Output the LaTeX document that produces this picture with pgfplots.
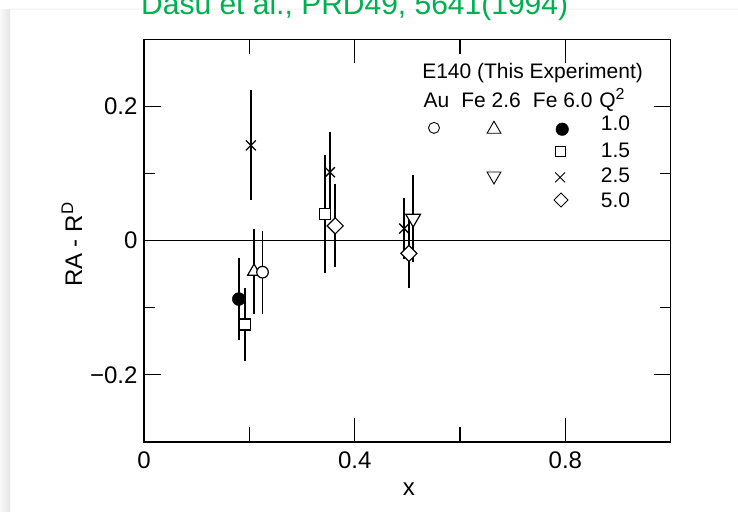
\documentclass[border=0pt]{standalone}
\usepackage{fontspec}
\setmainfont{Liberation Sans}
\usepackage{pgfplots}
\pgfplotsset{compat=1.18}
\definecolor{slidegreen}{RGB}{0,176,80}
\newcommand{\tickfont}{\fontsize{24}{28}\selectfont}
\newcommand{\legfont}{\fontsize{21}{25}\selectfont}
\begin{document}
\begin{tikzpicture}
\clip (0pt,0pt) rectangle (738pt,511pt);
\fill[white] (0pt,0pt) rectangle (738pt,511pt);
\shade[left color=gray!5, right color=gray!20] (0pt,0pt) rectangle (10pt,501pt);
\shade[bottom color=gray!12, top color=white] (10pt,501pt) rectangle (738pt,504pt);
\node[anchor=base west, text=slidegreen, font=\fontsize{30}{34}\selectfont, inner sep=0pt] at (141pt,496pt) {Dasu et al., PRD49, 5641(1994)};
% main axis: y ticks, data
\begin{axis}[
  at={(144pt,69pt)}, anchor=south west, scale only axis,
  width=526.7pt, height=402.7pt,
  xmin=0, xmax=1, ymin=-0.3, ymax=0.3,
  axis line style={line width=1.2pt},
  xtick={0,0.4,0.8}, xticklabels={0,0.4,0.8},
  ytick={-0.2,0,0.2}, yticklabels={−0.2,0,0.2},
  minor ytick={-0.1,0.1},
  major tick length=17pt, minor tick length=11pt,
  tick style={line width=1.2pt, black},
  xtick style={draw=none},
  ticklabel style={font=\tickfont},
  xticklabel style={yshift=-6pt},
  yticklabel style={xshift=-3pt},
  xlabel={x}, ylabel={RA - R\textsuperscript{D}},
  label style={font=\tickfont},
  xlabel style={at={(axis description cs:0.503,-0.117)}, anchor=center},
  ylabel style={at={(axis description cs:-0.137,0.49)}, anchor=center},
  clip=false,
]
% zero line
\addplot[black, line width=1.1pt, mark=none] coordinates {(0,0) (1,0)};
% error bars first
\addplot[draw=none, mark=none, error bars/.cd, y dir=both, y explicit, error mark=none,
  error bar style={line width=1.4pt, black}] coordinates {
  (0.225,-0.047) +- (0,0.062)
  (0.209,-0.046) +- (0,0.064)
  (0.511,0.033) +- (0,0.065)
  (0.180,-0.087) +- (0,0.061)
  (0.192,-0.125) +- (0,0.054)
  (0.344,0.040) +- (0,0.088)
  (0.203,0.142) +- (0,0.082)
  (0.353,0.102) +- (0,0.060)
  (0.494,0.018) +- (0,0.046)
  (0.363,0.022) +- (0,0.062)
  (0.503,-0.019) +- (0,0.052)
};
% Fe 2.6, Q2=1.0 triangle
\addplot[only marks, mark=triangle*, mark size=7.5pt, mark options={fill=white, draw=black, line width=1.2pt}] coordinates {(0.209,-0.046)};
% Au circle
\addplot[only marks, mark=*, mark size=5.8pt, mark options={fill=white, draw=black, line width=1.2pt}] coordinates {(0.225,-0.047)};
% Fe 2.6, Q2=2.5 inverted triangle
\addplot[only marks, mark=triangle*, mark size=8.5pt, mark options={fill=white, draw=black, line width=1.2pt, rotate=180}] coordinates {(0.511,0.033)};
% Fe 6.0 Q2=1.0 filled circle
\addplot[only marks, mark=*, mark size=6.5pt, mark options={fill=black, draw=black}] coordinates {(0.180,-0.087)};
% Fe 6.0 Q2=1.5 square
\addplot[only marks, mark=square*, mark size=5.5pt, mark options={fill=white, draw=black, line width=1.2pt}] coordinates {(0.192,-0.125) (0.344,0.040)};
% Fe 6.0 Q2=2.5 cross
\addplot[only marks, mark=x, mark size=7pt, mark options={draw=black, line width=1.3pt}] coordinates {(0.203,0.142) (0.353,0.102) (0.494,0.018)};
% Fe 6.0 Q2=5.0 diamond
\addplot[only marks, mark=square*, mark size=5.7pt, mark options={fill=white, draw=black, line width=1.2pt, rotate=45}] coordinates {(0.363,0.022) (0.503,-0.019)};
% legend symbols
\addplot[only marks, mark=*, mark size=5.5pt, mark options={fill=white, draw=black, line width=0.9pt}] coordinates {(0.5506,0.168)};
\addplot[only marks, mark=triangle*, mark size=8pt, mark options={fill=white, draw=black, line width=0.9pt}] coordinates {(0.6645,0.166)};
\addplot[only marks, mark=*, mark size=6.3pt, mark options={fill=black, draw=black}] coordinates {(0.794,0.166)};
\addplot[only marks, mark=square*, mark size=5pt, mark options={fill=white, draw=black, line width=0.9pt}] coordinates {(0.790,0.1326)};
\addplot[only marks, mark=triangle*, mark size=8pt, mark options={fill=white, draw=black, line width=0.9pt, rotate=180}] coordinates {(0.6645,0.0963)};
\addplot[only marks, mark=x, mark size=7pt, mark options={draw=black, line width=0.9pt}] coordinates {(0.790,0.0943)};
\addplot[only marks, mark=square*, mark size=5pt, mark options={fill=white, draw=black, line width=0.9pt, rotate=45}] coordinates {(0.7917,0.0606)};
% legend text
\node[anchor=base, font=\legfont, inner sep=0pt] at (axis cs:0.7378,0.241) {E140 (This Experiment)};
\node[anchor=base, font=\legfont, inner sep=0pt] at (axis cs:0.5553,0.1987) {Au};
\node[anchor=base, font=\legfont, inner sep=0pt] at (axis cs:0.659,0.1987) {Fe 2.6};
\node[anchor=base, font=\legfont, inner sep=0pt] at (axis cs:0.795,0.1987) {Fe 6.0};
\node[anchor=base, font=\legfont, inner sep=0pt] at (axis cs:0.8885,0.1987) {Q\raisebox{0.38em}{\fontsize{16}{18}\selectfont 2}};
\node[anchor=base, font=\legfont, inner sep=0pt] at (axis cs:0.8951,0.164) {1.0};
\node[anchor=base, font=\legfont, inner sep=0pt] at (axis cs:0.8951,0.124) {1.5};
\node[anchor=base, font=\legfont, inner sep=0pt] at (axis cs:0.8951,0.0869) {2.5};
\node[anchor=base, font=\legfont, inner sep=0pt] at (axis cs:0.8951,0.0496) {5.0};
\end{axis}
% overlay axis for x ticks
\begin{axis}[
  at={(144pt,69pt)}, anchor=south west, scale only axis,
  width=526.7pt, height=402.7pt,
  xmin=0, xmax=1, ymin=-0.3, ymax=0.3,
  axis line style={line width=1.2pt},
  xtick={0,0.4,0.8}, xticklabels={},
  minor xtick={0.2,0.6},
  ytick=\empty,
  major tick length=24pt, minor tick length=15pt,
  tick style={line width=1.2pt, black},
]
\addplot[draw=none, mark=none] coordinates {(0,0) (1,0)};
\end{axis}
\end{tikzpicture}
\end{document}
